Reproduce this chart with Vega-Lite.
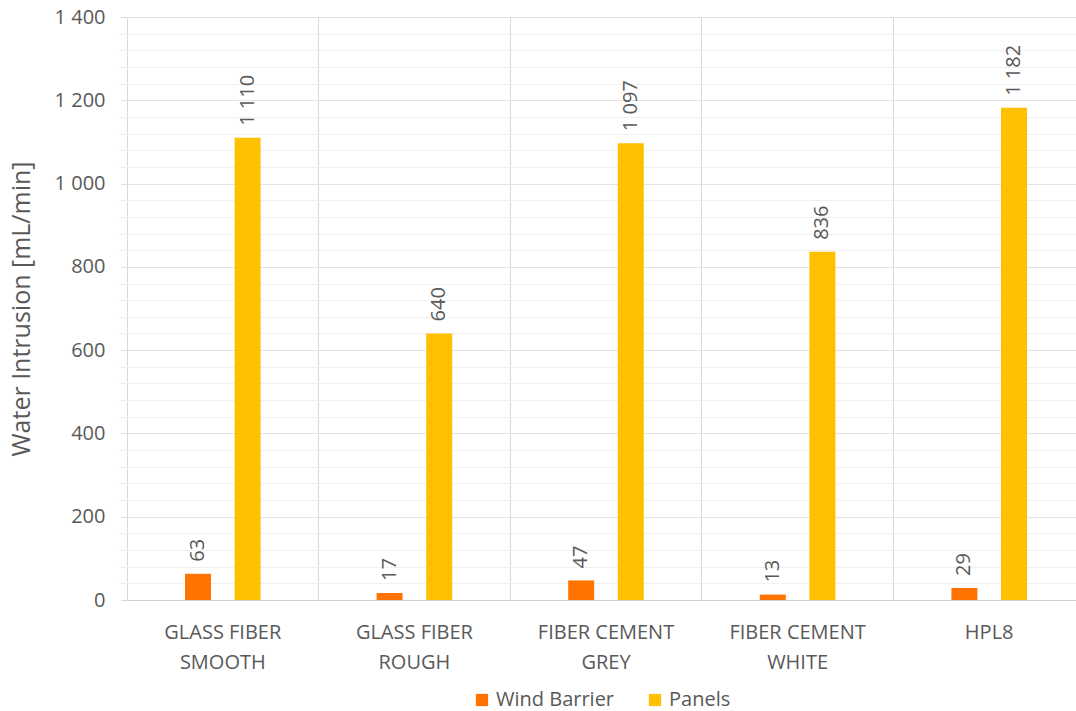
{
  "$schema": "https://vega.github.io/schema/vega-lite/v6.json",
  "width": 949,
  "height": 583,
  "autosize": {"type": "none"},
  "padding": {"left": 127, "top": 17, "right": 0, "bottom": 111},
  "background": "white",
  "config": {
    "locale": {"number": {"decimal": ".", "thousands": " ", "grouping": [3], "currency": ["", ""]}},
    "font": "Open Sans",
    "view": {"stroke": null},
    "axis": {"labelColor": "#595959", "titleColor": "#595959", "labelFont": "Open Sans", "titleFont": "Open Sans"},
    "legend": {"layout": {"bottom": {"anchor": "middle"}}}
  },
  "data": {
    "values": [
      {"panel": "Glass Fiber|Smooth", "series": "Wind Barrier", "value": 63},
      {"panel": "Glass Fiber|Smooth", "series": "Panels", "value": 1110},
      {"panel": "Glass Fiber|Rough", "series": "Wind Barrier", "value": 17},
      {"panel": "Glass Fiber|Rough", "series": "Panels", "value": 640},
      {"panel": "Fiber Cement|Grey", "series": "Wind Barrier", "value": 47},
      {"panel": "Fiber Cement|Grey", "series": "Panels", "value": 1097},
      {"panel": "Fiber Cement|White", "series": "Wind Barrier", "value": 13},
      {"panel": "Fiber Cement|White", "series": "Panels", "value": 836},
      {"panel": "HPL8", "series": "Wind Barrier", "value": 29},
      {"panel": "HPL8", "series": "Panels", "value": 1182}
    ]
  },
  "resolve": {"axis": {"x": "independent", "y": "independent"}},
  "layer": [
    {
      "mark": {"type": "bar"},
      "encoding": {
        "x": {
          "field": "panel",
          "type": "nominal",
          "sort": null,
          "scale": {"paddingInner": 0, "paddingOuter": 0, "range": [0, 958]},
          "axis": {
            "title": null,
            "orient": "bottom",
            "grid": false,
            "ticks": false,
            "domain": true,
            "domainColor": "#D0D0D0",
            "domainWidth": 1,
            "labelAngle": 0,
            "labelFontSize": 20,
            "labelLineHeight": 30,
            "labelPadding": 22,
            "labelExpr": "split(upper(datum.label), '|')"
          }
        },
        "xOffset": {
          "field": "series",
          "type": "nominal",
          "sort": ["Wind Barrier", "Panels"],
          "scale": {"paddingInner": 0.476, "paddingOuter": 0, "range": [58, 133.6]}
        },
        "y": {
          "field": "value",
          "type": "quantitative",
          "scale": {"domain": [0, 1400], "nice": false},
          "axis": {
            "orient": "left",
            "title": "Water Intrusion [mL/min]",
            "titleFontSize": 25,
            "titleFontWeight": "normal",
            "titlePadding": 20,
            "values": [0, 200, 400, 600, 800, 1000, 1200, 1400],
            "format": ",.0f",
            "labelFontSize": 20,
            "labelPadding": 16,
            "grid": true,
            "gridColor": "#E3E3E3",
            "ticks": true,
            "tickSize": 6,
            "tickColor": "#D9D9D9",
            "domain": false
          }
        },
        "color": {
          "field": "series",
          "type": "nominal",
          "sort": ["Wind Barrier", "Panels"],
          "scale": {"domain": ["Wind Barrier", "Panels"], "range": ["#FF7400", "#FFC000"]},
          "legend": {
            "orient": "bottom",
            "direction": "horizontal",
            "title": null,
            "symbolType": "square",
            "symbolSize": 150,
            "symbolStrokeWidth": 0,
            "labelFontSize": 20,
            "labelColor": "#595959",
            "labelFont": "Open Sans",
            "columnPadding": 30,
            "offset": 18
          }
        }
      }
    },
    {
      "mark": {"type": "text", "angle": -90, "align": "left", "baseline": "middle", "dx": 12, "fontSize": 20, "color": "#595959"},
      "encoding": {
        "x": {
          "field": "panel",
          "type": "nominal",
          "sort": null,
          "axis": {
            "orient": "top",
            "title": null,
            "grid": true,
            "gridColor": "#D9D9D9",
            "bandPosition": 0,
            "labels": false,
            "ticks": false,
            "domain": false
          }
        },
        "xOffset": {"field": "series", "type": "nominal", "sort": ["Wind Barrier", "Panels"]},
        "y": {
          "field": "value",
          "type": "quantitative",
          "axis": {
            "orient": "right",
            "title": null,
            "values": [40, 80, 120, 160, 240, 280, 320, 360, 440, 480, 520, 560, 640, 680, 720, 760, 840, 880, 920, 960, 1040, 1080, 1120, 1160, 1240, 1280, 1320, 1360],
            "grid": true,
            "gridColor": "#F0F0F0",
            "labels": false,
            "ticks": false,
            "domain": false
          }
        },
        "text": {"field": "value", "type": "quantitative", "format": ",.0f"}
      }
    }
  ]
}
